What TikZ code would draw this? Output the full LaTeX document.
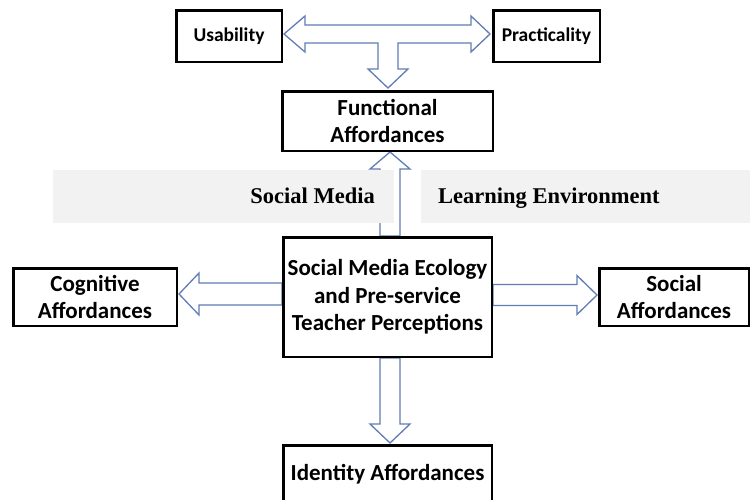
\documentclass[tikz,border=0pt]{standalone}
\usepackage{fontspec}
\setmainfont{Carlito}
\newfontfamily\timesfont{Liberation Serif}
\usetikzlibrary{calc}
\pgfdeclarelayer{arrows}
\pgfdeclarelayer{bands}
\pgfsetlayers{arrows,bands,main}
\definecolor{arrowblue}{RGB}{96,125,180}
\definecolor{bandgray}{RGB}{242,242,242}

\begin{document}
\begin{tikzpicture}[x=1pt,y=-1pt,
  box/.style={draw=black, line width=2.5pt, fill=white, inner sep=0pt, align=center,
              font=\bfseries\fontsize{23}{27.5}\selectfont},
  smallbox/.style={box, font=\bfseries\fontsize{19.5}{23}\selectfont},
  blockarrow/.style={draw=arrowblue, line width=1.3pt, fill=white, line join=miter},
  bandtext/.style={font=\timesfont\bfseries\fontsize{22.5}{27}\selectfont, inner sep=0pt},
]
\useasboundingbox (0,0) rectangle (751,499);

% boxes
\node[smallbox, minimum width=105.5pt, minimum height=51.5pt] (use) at (229,36) {Usability};
\node[smallbox, minimum width=106.5pt, minimum height=51.5pt] (prac) at (546.5,36) {Practicality};
\node[box, minimum width=210.5pt, minimum height=59.5pt] (func) at (387.5,121) {Functional\\Affordances};
\node[box, minimum width=208.5pt, minimum height=119.5pt] (cen) at (387.5,297)
  {Social Media Ecology\\and Pre-service\\Teacher Perceptions};
\node[box, minimum width=163.5pt, minimum height=57.5pt] (cog) at (95,297) {Cognitive\\Affordances};
\node[box, minimum width=149.5pt, minimum height=57.5pt] (soc) at (674,297) {Social\\Affordances};
\node[box, minimum width=208.5pt, minimum height=58.5pt] (ident) at (387.5,474.5) {Identity Affordances};

% block arrows
\begin{pgfonlayer}{arrows}
  % T-shaped arrow: Usability <-> Practicality, branch down to Functional Affordances
  \coordinate (tl) at ($(use.east)+(1,-2)$);
  \coordinate (tr) at ($(prac.west)+(-2,-2)$);
  \coordinate (td) at ($(func.north)+(0.5,-2)$);
  \draw[blockarrow] (tl) -- ($(tl)+(21,-18)$) -- ($(tl)+(21,-9)$)
    -- ($(tr)+(-19,-9)$) -- ($(tr)+(-19,-18)$) -- (tr) -- ($(tr)+(-19,18)$)
    -- ($(tr)+(-19,9)$) -- ($(td |- tl)+(10,9)$) -- ($(td)+(10,-19)$)
    -- ($(td)+(20,-19)$) -- (td) -- ($(td)+(-20,-19)$) -- ($(td)+(-10,-19)$)
    -- ($(td |- tl)+(-10,9)$) -- ($(tl)+(21,9)$) -- ($(tl)+(21,18)$) -- cycle;

  % up: centre box -> Functional Affordances
  \coordinate (cu) at ($(func.south)+(2.5,0)$);
  \draw[blockarrow] ($(cu |- cen.north)+(-10,0)$) -- ($(cu)+(-10,17)$) -- ($(cu)+(-20,17)$)
    -- (cu) -- ($(cu)+(20,17)$) -- ($(cu)+(10,17)$) -- ($(cu |- cen.north)+(10,0)$) -- cycle;

  % down: centre box -> Identity Affordances
  \coordinate (cd) at ($(ident.north)+(2.5,-1)$);
  \draw[blockarrow] ($(cd |- cen.south)+(-10,0)$) -- ($(cd)+(-10,-19)$) -- ($(cd)+(-20,-19)$)
    -- (cd) -- ($(cd)+(20,-19)$) -- ($(cd)+(10,-19)$) -- ($(cd |- cen.south)+(10,0)$) -- cycle;

  % left: centre box -> Cognitive Affordances
  \coordinate (cl) at ($(cog.east)+(1,-3)$);
  \draw[blockarrow] ($(cen.west |- cl)+(0,-11)$) -- ($(cl)+(20,-11)$) -- ($(cl)+(20,-21)$)
    -- (cl) -- ($(cl)+(20,21)$) -- ($(cl)+(20,11)$) -- ($(cen.west |- cl)+(0,11)$) -- cycle;

  % right: centre box -> Social Affordances
  \coordinate (cr) at ($(soc.west)+(-1,-2)$);
  \draw[blockarrow] ($(cen.east |- cr)+(0,-10.5)$) -- ($(cr)+(-20,-10.5)$) -- ($(cr)+(-20,-19.5)$)
    -- (cr) -- ($(cr)+(-20,19.5)$) -- ($(cr)+(-20,10.5)$) -- ($(cen.east |- cr)+(0,10.5)$) -- cycle;
\end{pgfonlayer}

% shaded bands with their labels
\begin{pgfonlayer}{bands}
  \fill[bandgray] (53,170) rectangle (394,223);
  \fill[bandgray] (421,170) rectangle (750,223);
  \node[bandtext, anchor=base east] (smlabel) at (375,203) {Social Media};
  \node[bandtext, anchor=base west] (lelabel) at (438,203) {Learning Environment};
\end{pgfonlayer}
\end{tikzpicture}
\end{document}
